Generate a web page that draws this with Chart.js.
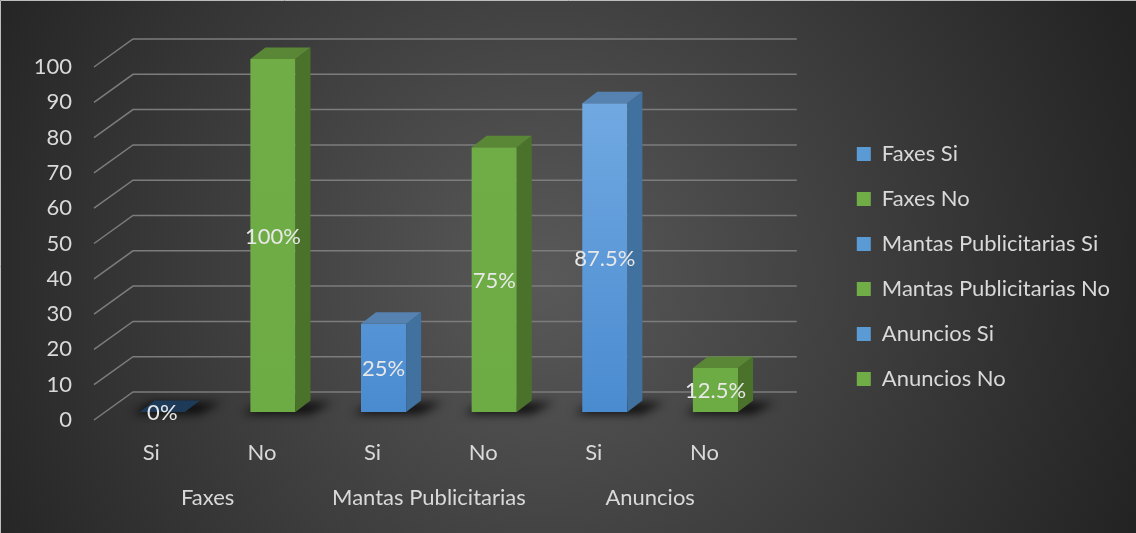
<!DOCTYPE html>
<html>
<head>
<meta charset="utf-8">
<script src="https://cdn.jsdelivr.net/npm/chart.js@4.4.1/dist/chart.umd.min.js"></script>
<style>
  html, body { margin: 0; padding: 0; background: #262626; }
  canvas { display: block; }
</style>
</head>
<body>
<canvas id="chart" width="1136" height="533"></canvas>
<script>
// data
const groups = ['Faxes', 'Mantas Publicitarias', 'Anuncios'];
const categories = ['Si', 'No', 'Si', 'No', 'Si', 'No'];
const values = [0, 100, 25, 75, 87.5, 12.5];
const yTicks = [0, 10, 20, 30, 40, 50, 60, 70, 80, 90, 100];
const legendItems = categories.map((c, i) => groups[Math.floor(i / 2)] + ' ' + c);

// colours per answer
const palette = {
  Si: { front: '#5b9bd5', top1: '#76ade4', bottom: '#4a8bd0', side: '#41719f', top: '#5682b1', flat: '#1d3a58' },
  No: { front: '#70ad47', top1: '#70ad47', bottom: '#6dab44', side: '#4b722b', top: '#5a8736', flat: '#3c5e24' }
};

const DX = 15, DY = -11.5;   // bar depth
const FONT = 'Lato';
const TEXT = '#d9d9d9';

Chart.defaults.font.family = FONT;
Chart.defaults.font.size = 22;
Chart.defaults.color = TEXT;

const background = {
  id: 'background',
  beforeDraw(chart) {
    const { ctx, width, height } = chart;
    const g = ctx.createRadialGradient(width * 0.48, height * 0.52, 0, width * 0.48, height * 0.52, width * 0.56);
    g.addColorStop(0, '#595959');
    g.addColorStop(1, '#232323');
    ctx.save();
    ctx.fillStyle = g;
    ctx.fillRect(0, 0, width, height);
    ctx.strokeStyle = '#bdbdbd';
    ctx.lineWidth = 1;
    ctx.beginPath();
    ctx.moveTo(0.5, height);
    ctx.lineTo(0.5, 0.5);
    ctx.lineTo(width, 0.5);
    ctx.stroke();
    ctx.restore();
  }
};

function poly(ctx, pts) {
  ctx.beginPath();
  ctx.moveTo(pts[0][0], pts[0][1]);
  for (let k = 1; k < pts.length; k++) ctx.lineTo(pts[k][0], pts[k][1]);
  ctx.closePath();
  ctx.fill();
}

const threeD = {
  id: 'threeD',
  beforeDatasetsDraw(chart) {
    const { ctx, chartArea: a } = chart;
    const y = chart.scales.y;
    ctx.save();
    // back wall + side wall grid
    ctx.strokeStyle = '#7c7c7c';
    ctx.lineWidth = 1.5;
    y.ticks.forEach(t => {
      const py = y.getPixelForValue(t.value);
      ctx.beginPath();
      ctx.moveTo(a.left - 13, py + 8);
      ctx.lineTo(a.left + 26, py - 20);
      ctx.lineTo(a.right + 26, py - 20);
      ctx.stroke();
    });
    // floor shadows
    const meta = chart.getDatasetMeta(0);
    ctx.filter = 'blur(5px)';
    ctx.fillStyle = 'rgba(0,0,0,0.8)';
    meta.data.forEach(bar => {
      const l = bar.x - bar.width / 2, r = bar.x + bar.width / 2, b = bar.base;
      poly(ctx, [[l - 8, b + 2], [r + 14, b + 2], [r + DX + 22, b + DY + 2], [l + DX - 4, b + DY + 2]]);
    });
    ctx.restore();
  },
  afterDatasetsDraw(chart) {
    const { ctx } = chart;
    const meta = chart.getDatasetMeta(0);
    ctx.save();
    meta.data.forEach((bar, i) => {
      const c = palette[categories[i]];
      const l = bar.x - bar.width / 2, r = bar.x + bar.width / 2, t = bar.y, b = bar.base;
      const flat = b - t < 1;
      if (!flat) {
        ctx.fillStyle = c.side;
        poly(ctx, [[r, t], [r + DX, t + DY], [r + DX, b + DY], [r, b]]);
      }
      ctx.fillStyle = flat ? c.flat : c.top;
      poly(ctx, [[l, t], [r, t], [r + DX, t + DY], [l + DX, t + DY]]);
    });
    // data labels in the middle of the front face
    ctx.fillStyle = '#e8e8e8';
    ctx.font = '22px ' + FONT;
    ctx.textAlign = 'center';
    ctx.textBaseline = 'middle';
    meta.data.forEach((bar, i) => {
      ctx.fillText(values[i] + '%', bar.x, (bar.y + bar.base) / 2 + 1);
    });
    ctx.restore();
  }
};

function frontFill(context) {
  const c = palette[categories[context.dataIndex]];
  const a = context.chart.chartArea;
  if (!a) return c.front;
  const g = context.chart.ctx.createLinearGradient(0, a.top, 0, a.bottom);
  g.addColorStop(0, c.top1);
  g.addColorStop(1, c.bottom);
  return g;
}

new Chart(document.getElementById('chart'), {
  type: 'bar',
  data: {
    labels: categories,
    datasets: [{
      data: values,
      backgroundColor: frontFill,
      borderWidth: 0,
      barPercentage: 0.51,
      categoryPercentage: 0.8,
      xAxisID: 'x',
      yAxisID: 'y'
    }]
  },
  options: {
    responsive: false,
    animation: false,
    devicePixelRatio: 1,
    layout: { padding: { top: 0, left: 0, right: 16, bottom: 0 } },
    plugins: {
      tooltip: { enabled: false },
      legend: {
        position: 'right',
        maxWidth: 320,
        onClick: null,
        labels: {
          boxWidth: 14,
          boxHeight: 14,
          padding: 23,
          color: TEXT,
          font: { size: 22 },
          generateLabels: () => legendItems.map((text, i) => ({
            text,
            fillStyle: palette[categories[i]].front,
            strokeStyle: palette[categories[i]].front,
            lineWidth: 0,
            hidden: false,
            index: i,
            fontColor: TEXT
          }))
        }
      }
    },
    scales: {
      xt: {
        type: 'category',
        position: 'top',
        labels: categories,
        grid: { display: false, drawTicks: false },
        border: { display: false },
        ticks: { display: false },
        afterFit: s => { s.height = 59; }
      },
      x: {
        type: 'category',
        position: 'bottom',
        offset: true,
        grid: { display: false, drawTicks: false },
        border: { display: false },
        ticks: { padding: 28, labelOffset: -11, autoSkip: false, maxRotation: 0 },
        afterFit: s => { s.height = 62; }
      },
      x2: {
        type: 'category',
        position: 'bottom',
        labels: groups,
        offset: true,
        grid: { display: false, drawTicks: false },
        border: { display: false },
        ticks: { padding: 11, labelOffset: -10, autoSkip: false, maxRotation: 0 },
        afterFit: s => { s.height = 59; }
      },
      y: {
        min: 0,
        max: 100,
        grid: { display: false, drawTicks: false },
        border: { display: false },
        afterBuildTicks: s => { s.ticks = yTicks.map(v => ({ value: v })); },
        ticks: { padding: 35, labelOffset: 8 },
        afterFit: s => { s.width = 107; }
      },
      yr: {
        type: 'linear',
        position: 'right',
        grid: { display: false, drawTicks: false },
        border: { display: false },
        ticks: { display: false },
        afterFit: s => { s.width = 63; }
      }
    }
  },
  plugins: [background, threeD]
});
</script>
</body>
</html>
